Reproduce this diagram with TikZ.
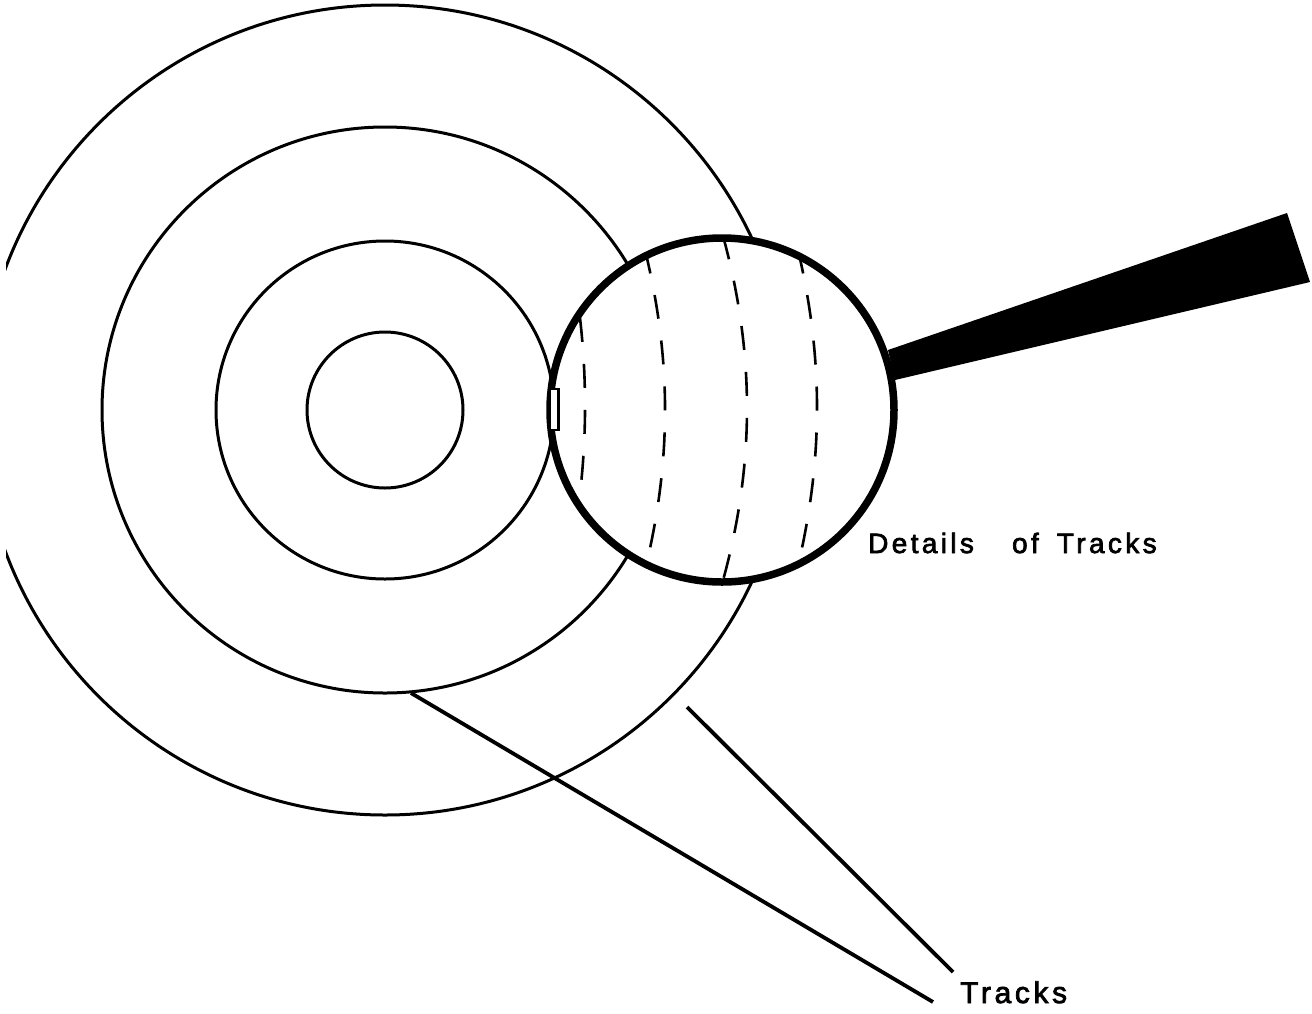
\documentclass[tikz,border=0pt]{standalone}
\usepackage{fontspec}
\newfontfamily\lblfont[LetterSpace=12, FakeBold=2.5]{Liberation Sans}
\begin{document}
\begin{tikzpicture}[x=1pt,y=-1pt,
  track/.style={line width=3pt},
  ring/.style={line width=7.5pt},
  detail/.style={line width=2.6pt, dash pattern=on 24pt off 22pt},
  leader/.style={line width=3.8pt},
  lbl/.style={inner sep=0pt, font=\lblfont\fontsize{28}{32}\selectfont}]
\useasboundingbox (0,0) rectangle (1312,1013);
% concentric tracks
\coordinate (c) at (385,410);
\begin{scope}
  \clip (6,-20) rectangle (1312,1030);
  \draw[track] (c) circle (78);
  \draw[track] (c) circle (169);
  \draw[track] (c) circle (283);
  \draw[track] (c) circle (405);
\end{scope}
% magnifier
\coordinate (m) at (722,410);
\fill[white] (m) circle (172);
\fill[black] (888,350) -- (1287,213) -- (1310,282) -- (895,380) -- cycle;
\begin{scope}
  \clip (m) circle (172);
  \draw[detail] (580,318) .. controls (587,379.3) and (586.7,440.7) .. (579,502);
  \draw[detail] (645,250) .. controls (671.7,358.7) and (671.7,461.3) .. (645,570);
  \draw[detail] (723,236) .. controls (755.3,353.3) and (755,466.7) .. (722,584);
  \draw[detail] (798,250) .. controls (823.7,358.7) and (823.3,461.3) .. (797,570);
\end{scope}
\draw[ring] (m) circle (172);
\filldraw[fill=white, draw=black, line width=2.5pt] (550,389) rectangle (558.5,430);
% labels
\node[lbl, anchor=base west] (details) at (868,553) {Details\hspace{27pt} of\hspace{7pt} Tracks};
\node[lbl, font=\lblfont\fontsize{30}{34}\selectfont, anchor=base west] (tracks) at (960,1003) {Tracks};
\coordinate (l1s) at (411,693);
\coordinate (l1e) at (933,1002);
\coordinate (l2s) at (687,707);
\coordinate (l2e) at (953,972);
\draw[leader] (l1s) -- (l1e);
\draw[leader] (l2s) -- (l2e);
\end{tikzpicture}
\end{document}
